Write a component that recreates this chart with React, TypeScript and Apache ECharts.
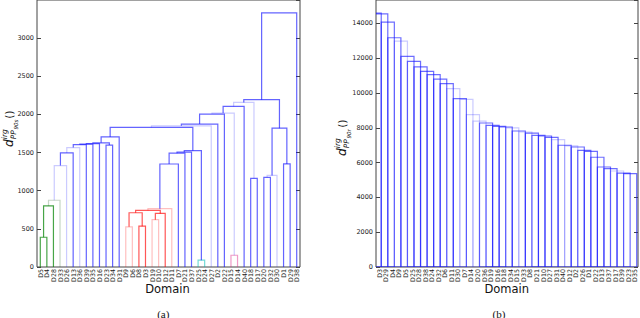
import React, { useEffect, useRef } from 'react';
import * as echarts from 'echarts';

// ---------- Panel (a): dendrogram ----------
const leavesA = ['D5','D4','D28','D33','D26','D13','D36','D39','D35','D16','D23','D34','D31','D9','D6','D8','D3','D19','D10','D12','D11','D7','D21','D37','D25','D24','D27','D2','D22','D15','D14','D40','D18','D17','D20','D32','D30','D1','D29','D38'];
// node ids < 40 are leaves (in leaf order), 40 + k is merge k
const mergeLeft  = [0, 40, 41, 42, 43, 44, 45, 46, 47, 10, 48, 50, 13, 15, 52, 17, 55, 54, 57, 58, 59, 60, 24, 61, 51, 64, 65, 66, 29, 67, 69, 32, 70, 34, 73, 37, 74, 72, 77];
const mergeRight = [1, 2, 3, 4, 5, 6, 7, 8, 9, 11, 49, 12, 14, 16, 53, 18, 19, 56, 20, 21, 22, 23, 25, 62, 63, 26, 27, 28, 30, 68, 31, 33, 71, 35, 36, 38, 75, 76, 39];
const mergeHeight = [390, 800, 875, 1329, 1495, 1566, 1605, 1612, 1618, 1598, 1628, 1705, 527, 535, 711, 620, 702, 742, 765, 1350, 1492, 1505, 90, 1525, 1829, 1851, 1873, 2005, 154, 2018, 2105, 1163, 2158, 1175, 1200, 1351, 1820, 2193, 3330];
const yMaxA = 3500;
const yStepA = 500;

// ---------- Panel (b): sorted distances ----------
const domainsB = ['D3','D29','D4','D9','D5','D25','D28','D38','D24','D32','D6','D11','D30','D7','D14','D20','D36','D19','D16','D18','D34','D15','D33','D8','D21','D10','D27','D31','D40','D12','D2','D26','D1','D22','D13','D37','D17','D39','D23','D35'];
const distB = [14600, 14550, 14080, 13180, 12990, 12110, 11820, 11500, 11250, 11060, 10800, 10540, 10250, 9680, 9640, 8760, 8390, 8280, 8140, 8080, 8050, 8000, 7820, 7760, 7700, 7570, 7530, 7450, 7320, 7000, 6960, 6900, 6710, 6650, 6310, 5750, 5650, 5520, 5400, 5370];
const yMaxB = 15350;
const yStepB = 2000;

// ---------- styles ----------
const LINK_SHADE = ['g','g','lg','lb','b','lb','b','b','b','b','b','b','lr','r','r','lr','r','r','lr','b','b','b','c','b','b','lb','b','b','m','lb','b','b','lb','b','lb','b','b','b','b'];
const SHADE_COLORS: Record<string, string> = {
  b: 'rgba(20,20,255,0.66)',
  lb: 'rgba(20,20,255,0.22)',
  g: 'rgba(0,130,0,0.72)',
  lg: 'rgba(30,90,30,0.25)',
  r: 'rgba(255,0,0,0.66)',
  lr: 'rgba(255,0,0,0.25)',
  c: 'rgba(0,190,180,0.55)',
  m: 'rgba(220,30,130,0.45)',
};
const LIGHT_BARS = new Set([4, 12, 14, 15, 16, 21, 23, 28, 30, 37]);

function buildLinks() {
  const n = leavesA.length;
  const pos: number[] = [];
  const hgt: number[] = [];
  for (let i = 0; i < n; i++) { pos.push(5 + 10 * i); hgt.push(0); }
  const rows: number[][] = [];
  for (let k = 0; k < mergeHeight.length; k++) {
    const l = mergeLeft[k], r = mergeRight[k], h = mergeHeight[k];
    rows.push([pos[l], hgt[l], pos[r], hgt[r], h]);
    pos.push((pos[l] + pos[r]) / 2);
    hgt.push(h);
  }
  return rows;
}

const FONT = 'DejaVu Sans';
const AX = '#444';

function mathLabel(x: number, y: number, sub: string) {
  const base = { fill: '#111', fontFamily: FONT, verticalAlign: 'middle', align: 'left' };
  return {
    type: 'group', x, y, rotation: Math.PI / 2, silent: true,
    children: [
      { type: 'text', x: 0, y: 0, style: { ...base, text: 'd', fontSize: 12, fontStyle: 'italic' } },
      { type: 'text', x: 7.8, y: -4.5, style: { ...base, text: 'irg', fontSize: 7.5, fontStyle: 'italic' } },
      { type: 'text', x: 7.8, y: 4.2, style: { ...base, text: 'PP', fontSize: 7.5, fontStyle: 'italic' } },
      { type: 'text', x: 17.4, y: 6.8, style: { ...base, text: sub, fontSize: 5.5, fontStyle: 'italic' } },
      { type: 'text', x: 28.5, y: 0, style: { ...base, text: '()', fontSize: 10 } },
    ],
  };
}

function yAxisCfg(gridIndex: number, max: number, step: number, right: boolean) {
  return {
    type: 'value', gridIndex, min: 0, max, interval: step,
    position: right ? 'right' : 'left',
    axisLine: { show: false },
    axisTick: { show: true, inside: true, length: 4, lineStyle: { color: AX, width: 1 } },
    axisLabel: right ? { show: false } : {
      show: true, showMaxLabel: false, fontSize: 6.5, fontFamily: FONT, color: '#222', margin: 3,
      formatter: (v: number) => String(v),
    },
    splitLine: { show: false },
  };
}

function catAxis(gridIndex: number, data: string[]) {
  return {
    type: 'category', gridIndex, data, boundaryGap: true,
    axisLine: { show: false }, axisTick: { show: false },
    axisLabel: { interval: 0, rotate: 90, fontSize: 6.3, fontFamily: FONT, color: '#222', margin: 2 },
    splitLine: { show: false },
  };
}

export default function App() {
  const ref = useRef<HTMLDivElement>(null);
  useEffect(() => {
    document.body.style.margin = '0';
    if (!ref.current) return;
    const chart = echarts.init(ref.current, null, { renderer: 'svg' });
    const links = buildLinks();
    const option: any = {
      animation: false,
      backgroundColor: '#fff',
      grid: [
        { left: 37, width: 263, top: 0, bottom: 51, show: true, borderColor: AX, borderWidth: 1, backgroundColor: 'transparent' },
        { left: 376, width: 262, top: 0, bottom: 51, show: true, borderColor: AX, borderWidth: 1, backgroundColor: 'transparent' },
      ],
      xAxis: [
        catAxis(0, leavesA),
        { type: 'value', gridIndex: 0, min: 0, max: leavesA.length * 10, show: false },
        catAxis(1, domainsB),
      ],
      yAxis: [
        yAxisCfg(0, yMaxA, yStepA, false),
        yAxisCfg(0, yMaxA, yStepA, true),
        yAxisCfg(1, yMaxB, yStepB, false),
        yAxisCfg(1, yMaxB, yStepB, true),
      ],
      series: [
        {
          type: 'custom', xAxisIndex: 1, yAxisIndex: 0, clip: true,
          encode: { x: [0, 2], y: [1, 3, 4] },
          data: links,
          renderItem: (params: any, api: any) => {
            const xl = api.value(0), yl = api.value(1), xr = api.value(2), yr = api.value(3), h = api.value(4);
            const pts = [api.coord([xl, yl]), api.coord([xl, h]), api.coord([xr, h]), api.coord([xr, yr])];
            return {
              type: 'polyline',
              shape: { points: pts },
              style: { stroke: SHADE_COLORS[LINK_SHADE[params.dataIndex]], fill: 'none', lineWidth: 1.2 },
            };
          },
        },
        {
          type: 'custom', xAxisIndex: 2, yAxisIndex: 2, clip: true,
          encode: { x: 0, y: 1 },
          data: distB.map((v, i) => [i, v]),
          renderItem: (params: any, api: any) => {
            const i = api.value(0);
            const top = api.coord([i, api.value(1)]);
            const base = api.coord([i, 0]);
            const bw = api.size([1, 0])[0];
            const x0 = top[0] - 1.7 * bw;
            const x1 = top[0] + 0.3 * bw;
            const light = LIGHT_BARS.has(params.dataIndex);
            return {
              type: 'rect',
              shape: { x: x0, y: top[1], width: x1 - x0, height: base[1] - top[1] },
              style: { fill: 'none', stroke: light ? 'rgba(20,20,255,0.22)' : 'rgba(20,20,255,0.62)', lineWidth: 1.2 },
            };
          },
        },
      ],
      graphic: [
        mathLabel(9, 147, '90s'),
        mathLabel(342, 156, '90r'),
        { type: 'text', x: 167.5, y: 289.3, style: { text: 'Domain', fontSize: 11.5, fontFamily: FONT, fill: '#111', align: 'center', verticalAlign: 'middle' } },
        { type: 'text', x: 506.7, y: 289.3, style: { text: 'Domain', fontSize: 11.5, fontFamily: FONT, fill: '#111', align: 'center', verticalAlign: 'middle' } },
        { type: 'text', x: 163.3, y: 313.5, style: { text: '(a)', fontSize: 11, fontFamily: 'Liberation Serif', fill: '#111', align: 'center', verticalAlign: 'middle' } },
        { type: 'text', x: 499, y: 313.5, style: { text: '(b)', fontSize: 11, fontFamily: 'Liberation Serif', fill: '#111', align: 'center', verticalAlign: 'middle' } },
      ],
    };
    chart.setOption(option);
    return () => chart.dispose();
  }, []);
  return <div ref={ref} style={{ width: 640, height: 318 }} />;
}
